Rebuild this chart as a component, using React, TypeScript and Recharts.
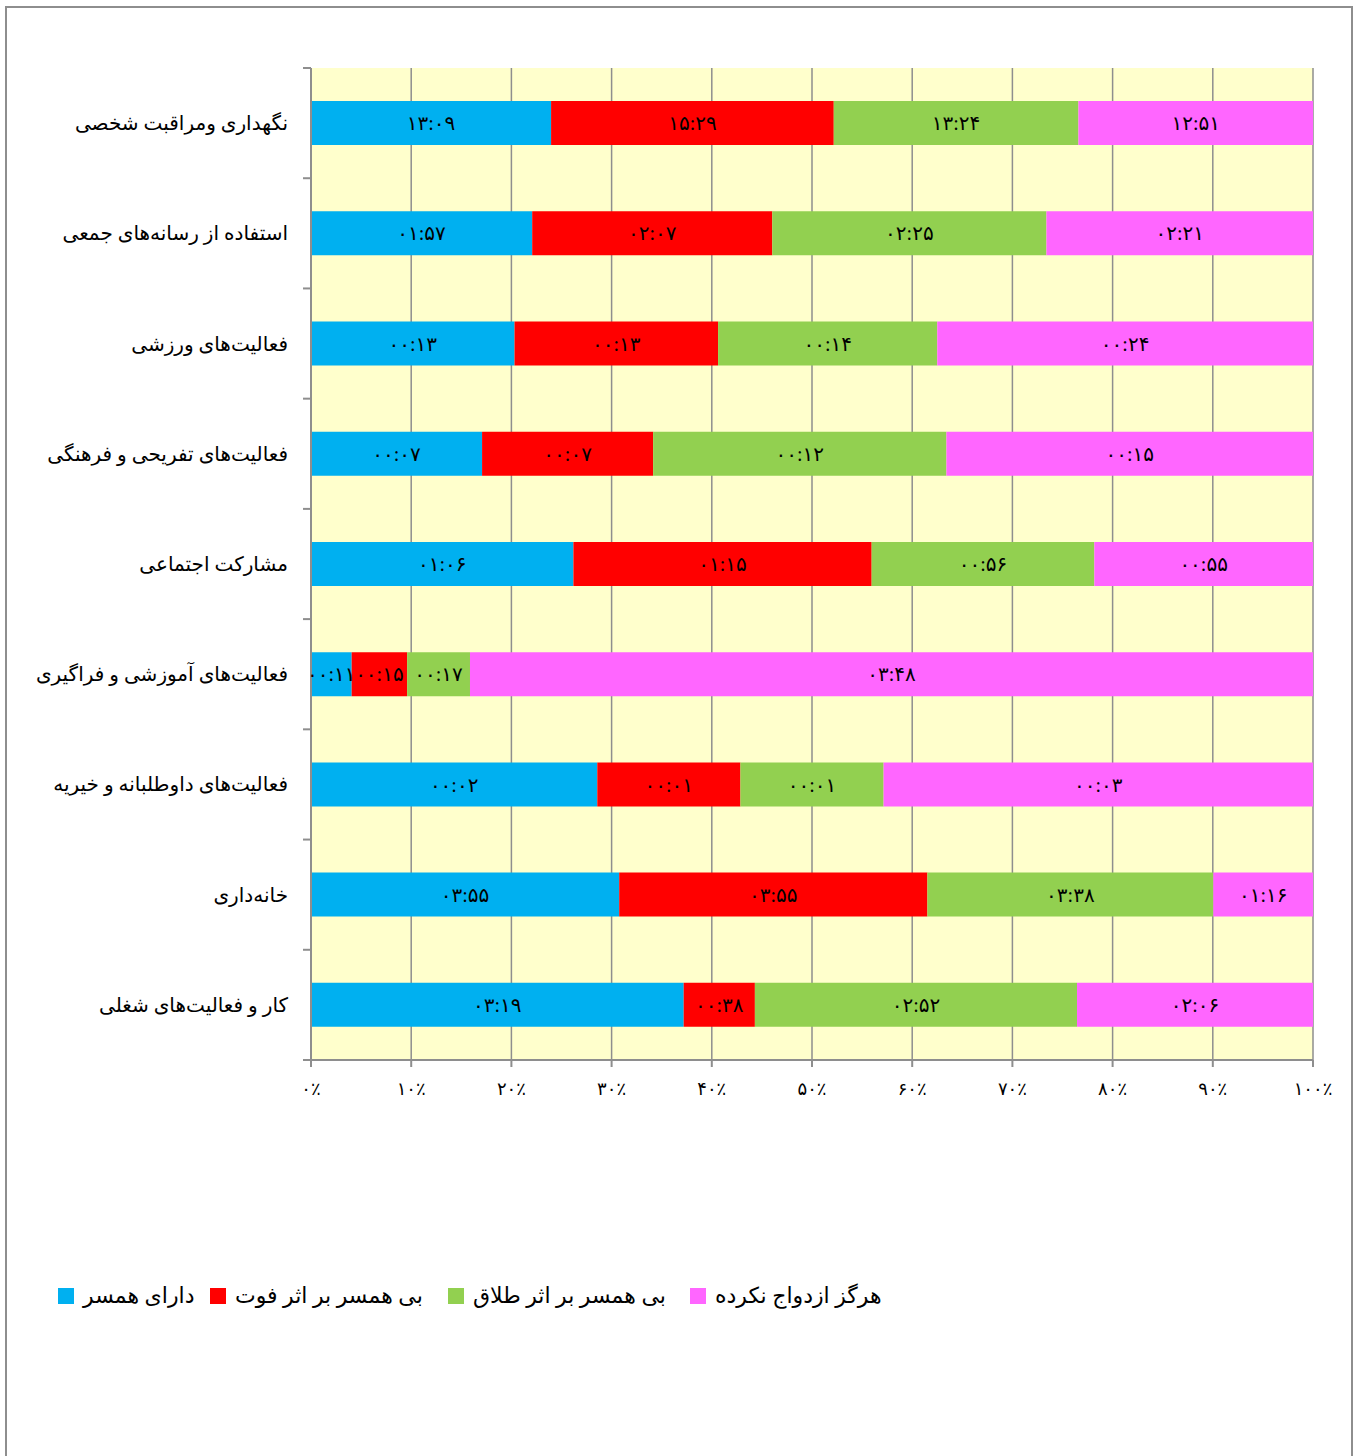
import React from "react";
import { BarChart, Bar, XAxis, YAxis, CartesianGrid, LabelList } from "recharts";

const categories = [
  "نگهداری ومراقبت شخصی",
  "استفاده از رسانه‌های جمعی",
  "فعالیت‌های ورزشی",
  "فعالیت‌های تفریحی و فرهنگی",
  "مشارکت اجتماعی",
  "فعالیت‌های آموزشی و فراگیری",
  "فعالیت‌های داوطلبانه و خیریه",
  "خانه‌داری",
  "کار و فعالیت‌های شغلی",
];

const seriesNames = ["دارای همسر", "بی همسر بر اثر فوت", "بی همسر بر اثر طلاق", "هرگز ازدواج نکرده"];
const seriesColors = ["#00B0F0", "#FF0000", "#92D050", "#FF66FF"];

const marriedTimes = ["13:09", "01:57", "00:13", "00:07", "01:06", "00:11", "00:02", "03:55", "03:19"];
const widowedTimes = ["15:29", "02:07", "00:13", "00:07", "01:15", "00:15", "00:01", "03:55", "00:38"];
const divorcedTimes = ["13:24", "02:25", "00:14", "00:12", "00:56", "00:17", "00:01", "03:38", "02:52"];
const neverTimes = ["12:51", "02:21", "00:24", "00:15", "00:55", "03:48", "00:03", "01:16", "02:06"];

const xTicks = [0, 0.1, 0.2, 0.3, 0.4, 0.5, 0.6, 0.7, 0.8, 0.9, 1];

const seriesTimes = [marriedTimes, widowedTimes, divorcedTimes, neverTimes];

const persianDigits = "۰۱۲۳۴۵۶۷۸۹";
const toPersian = (s: string) => s.replace(/[0-9]/g, (d) => persianDigits[Number(d)]);
const toMinutes = (t: string) => {
  const [h, m] = t.split(":").map(Number);
  return h * 60 + m;
};

const data = categories.map((category, i) => {
  const row: Record<string, string | number> = { category };
  seriesTimes.forEach((times, s) => {
    row["s" + s] = toMinutes(times[i]);
    row["l" + s] = toPersian(times[i]);
  });
  return row;
});

const GRAY = "#8e8e8e";
const FONT = "'Times New Roman', 'Liberation Serif', 'DejaVu Sans', serif";
const legendItemWidths = [152, 238, 242, 200];
const Y_TICK_SIZE = 8;
const Y_TICK_MARGIN = 15;

const CategoryTick = (props: any) => {
  const { x, y, payload, index, visibleTicksCount } = props;
  const half = payload && payload.offset ? payload.offset : 0;
  const axisX = x + Y_TICK_MARGIN + Y_TICK_SIZE;
  const isLast = index === (visibleTicksCount ?? categories.length) - 1;
  return (
    <g>
      <line x1={axisX - Y_TICK_SIZE} x2={axisX} y1={y - half} y2={y - half} stroke={GRAY} strokeWidth={2} />
      {isLast && <line x1={axisX - Y_TICK_SIZE} x2={axisX} y1={y + half} y2={y + half} stroke={GRAY} strokeWidth={2} />}
      <text x={x} y={y} dy="0.35em" textAnchor="end" fill="#000" fontSize={20} fontFamily={FONT}>
        {payload.value}
      </text>
    </g>
  );
};

export default function App() {
  return (
    <div
      style={{
        position: "absolute",
        left: 5,
        top: 6,
        width: 1348,
        height: 1470,
        border: `2px solid ${GRAY}`,
        boxSizing: "border-box",
        background: "#fff",
        fontFamily: FONT,
      }}
    >
      <BarChart
        width={1340}
        height={1100}
        data={data}
        layout="vertical"
        stackOffset="expand"
        barCategoryGap="30%"
        margin={{ top: 60, right: 34, bottom: 0, left: 4 }}
      >
        <CartesianGrid horizontal={false} vertical={true} stroke={GRAY} strokeWidth={1.5} fill="#FFFFCC" fillOpacity={1} />
        <XAxis
          type="number"
          domain={[0, 1]}
          ticks={xTicks}
          tickFormatter={(v: number) => toPersian(String(Math.round(v * 100))) + "٪"}
          stroke={GRAY}
          strokeWidth={2}
          tickSize={7}
          tickMargin={15}
          height={48}
          interval={0}
          tick={{ fill: "#000", fontSize: 18, fontFamily: FONT }}
        />
        <YAxis
          type="category"
          dataKey="category"
          width={300}
          tickLine={false}
          axisLine={{ stroke: GRAY, strokeWidth: 2 }}
          tickSize={Y_TICK_SIZE}
          tickMargin={Y_TICK_MARGIN}
          interval={0}
          tick={<CategoryTick />}
        />
        {seriesNames.map((name, s) => (
          <Bar key={name} dataKey={"s" + s} name={name} stackId="a" fill={seriesColors[s]} isAnimationActive={false}>
            <LabelList dataKey={"l" + s} position="center" fill="#000" fontSize={20} fontFamily={FONT} />
          </Bar>
        ))}
      </BarChart>
      <div
        style={{
          position: "absolute",
          left: 51,
          top: 1275,
          display: "flex",
          alignItems: "center",
          fontSize: 22,
          color: "#000",
          whiteSpace: "nowrap",
        }}
      >
        {seriesNames.map((name, s) => (
          <div key={name} style={{ display: "flex", alignItems: "center", width: legendItemWidths[s] }}>
            <span style={{ display: "inline-block", width: 16, height: 16, background: seriesColors[s], marginRight: 9 }} />
            <span>{name}</span>
          </div>
        ))}
      </div>
    </div>
  );
}
